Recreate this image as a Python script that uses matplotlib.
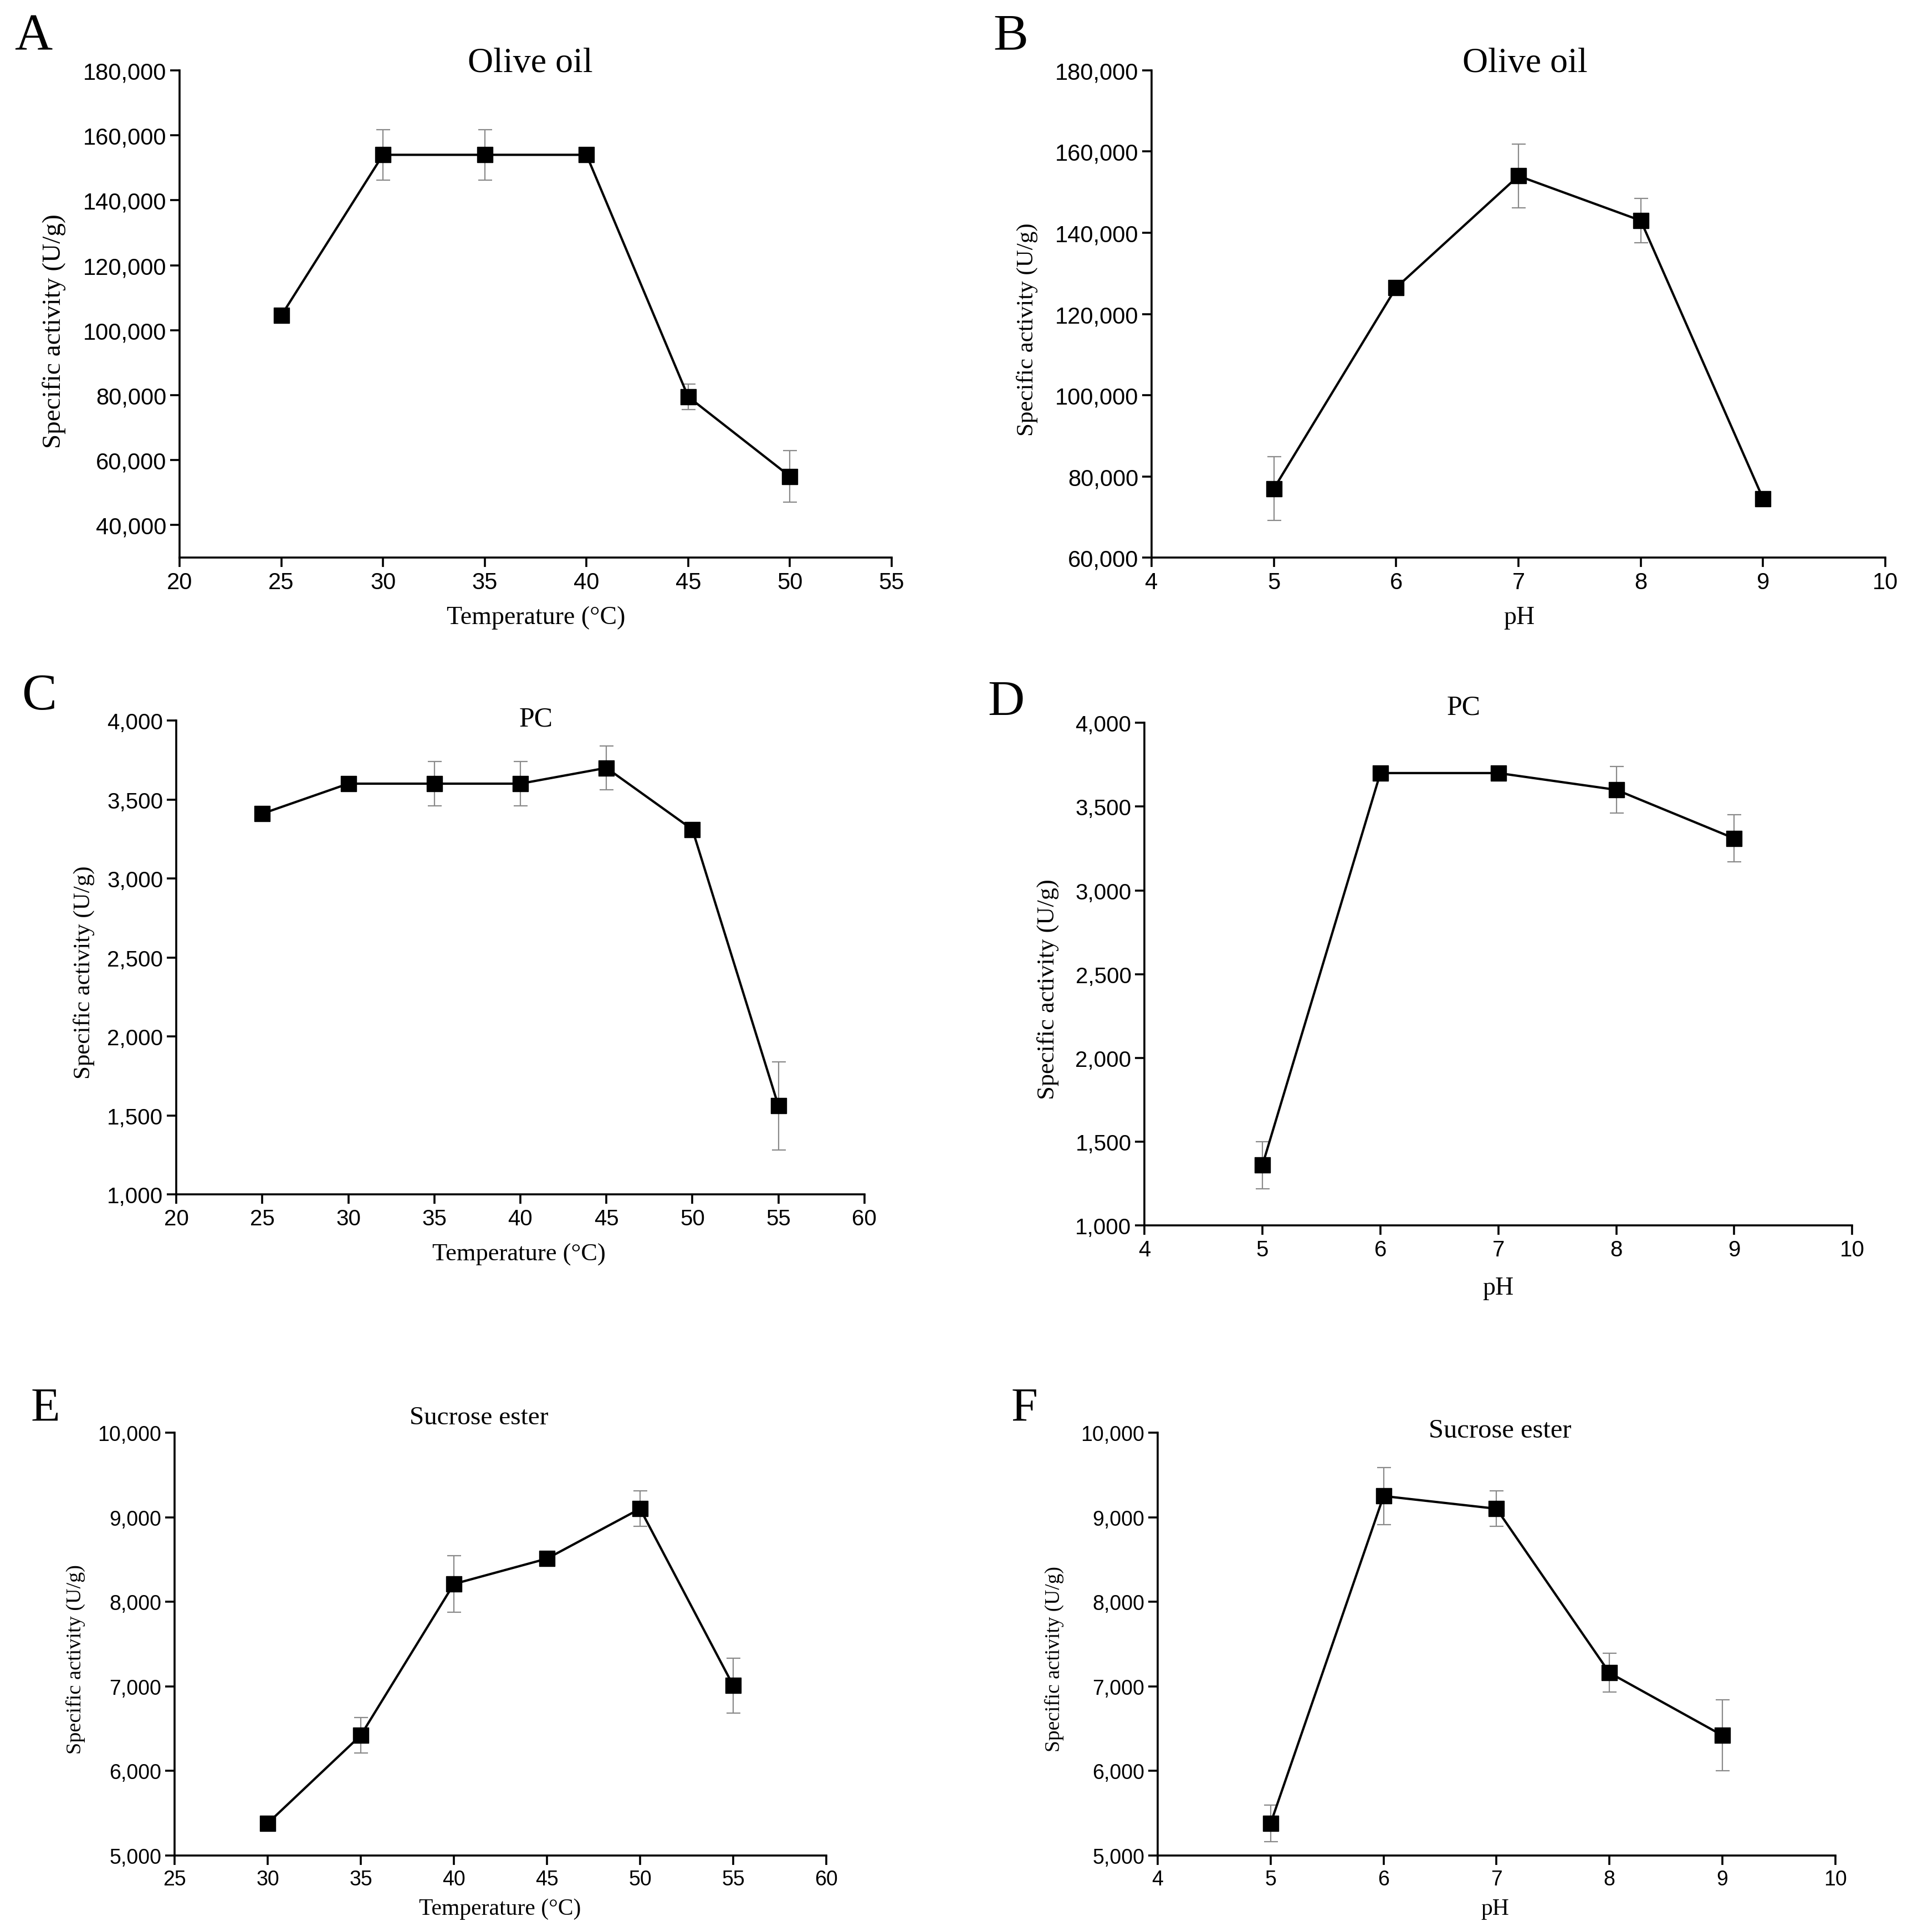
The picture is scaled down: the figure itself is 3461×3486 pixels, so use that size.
# imports
import matplotlib
matplotlib.use("Agg")
import matplotlib.pyplot as plt
from matplotlib.ticker import StrMethodFormatter
import numpy as np

# data
temp_a = [25, 30, 35, 40, 45, 50]
olive_temp = [104500, 154000, 154000, 154000, 79500, 55000]
olive_temp_err = [0, 7800, 7800, 0, 4000, 8000]

ph_b = [5, 6, 7, 8, 9]
olive_ph = [77000, 126500, 154000, 143000, 74500]
olive_ph_err = [7800, 0, 7800, 5500, 0]

temp_c = [25, 30, 35, 40, 45, 50, 55]
pc_temp = [3410, 3600, 3600, 3600, 3700, 3310, 1560]
pc_temp_err = [0, 0, 140, 140, 140, 0, 280]

ph_d = [5, 6, 7, 8, 9]
pc_ph = [1360, 3700, 3700, 3600, 3310]
pc_ph_err = [140, 0, 0, 140, 140]

temp_e = [30, 35, 40, 45, 50, 55]
sucrose_temp = [5380, 6420, 8210, 8510, 9100, 7010]
sucrose_temp_err = [0, 210, 335, 0, 210, 325]

ph_f = [5, 6, 7, 8, 9]
sucrose_ph = [5380, 9250, 9100, 7160, 6420]
sucrose_ph_err = [215, 335, 210, 230, 420]

serif = "Liberation Serif"
sans = "Liberation Sans"

fig = plt.figure(figsize=(34.61, 34.87), dpi=100)


def draw_panel(rect, x, y, err, xticks, yticks, ylim, tick_size):
    ax = fig.add_axes(rect)
    ax.errorbar(x, y, yerr=err, fmt="none", ecolor="#8a8a8a", elinewidth=1.6,
                capsize=9, capthick=1.6, zorder=2)
    ax.plot(x, y, color="black", linewidth=3, marker="s", markersize=20,
            markerfacecolor="black", markeredgecolor="black", zorder=3)
    ax.set_xlim(xticks[0], xticks[-1])
    ax.set_ylim(ylim)
    ax.set_xticks(xticks)
    ax.set_yticks(yticks)
    ax.yaxis.set_major_formatter(StrMethodFormatter("{x:,.0f}"))
    ax.spines["top"].set_visible(False)
    ax.spines["right"].set_visible(False)
    ax.spines["left"].set_linewidth(2.6)
    ax.spines["bottom"].set_linewidth(2.6)
    ax.tick_params(direction="out", length=12, width=2.6, pad=5)
    for lbl in ax.get_xticklabels() + ax.get_yticklabels():
        lbl.set_fontfamily(sans)
        lbl.set_fontsize(tick_size)
    ax.xaxis.set_tick_params(pad=6)
    return ax


def panel_text(letter, lpos, lsize, title, tpos, tsize, xlabel, xpos, xsize, ypos, ysize):
    fig.text(lpos[0], lpos[1], letter, fontfamily=serif, fontsize=lsize, ha="center", va="center")
    fig.text(tpos[0], tpos[1], title, fontfamily=serif, fontsize=tsize, ha="center", va="center")
    fig.text(xpos[0], xpos[1], xlabel, fontfamily=serif, fontsize=xsize, ha="center", va="center")
    fig.text(ypos[0], ypos[1], "Specific activity (U/g)", fontfamily=serif, fontsize=ysize,
             ha="center", va="center", rotation=90)


# A - olive oil vs temperature
draw_panel([0.0936, 0.7112, 0.3713, 0.2521], temp_a, olive_temp, olive_temp_err,
           np.arange(20, 56, 5), np.arange(40000, 180001, 20000), (30000, 180000), 30)
panel_text("A", (0.0173, 0.9808), 68, "Olive oil", (0.2765, 0.967), 46,
           "Temperature (\u00b0C)", (0.2794, 0.6802), 33, (0.0283, 0.8285), 34)

# B - olive oil vs pH
draw_panel([0.6004, 0.7112, 0.3826, 0.2521], ph_b, olive_ph, olive_ph_err,
           np.arange(4, 11, 1), np.arange(60000, 180001, 20000), (60000, 180000), 30)
panel_text("B", (0.527, 0.9808), 68, "Olive oil", (0.7951, 0.967), 46,
           "pH", (0.792, 0.6802), 33, (0.5354, 0.8294), 31)

# C - PC vs temperature
draw_panel([0.0919, 0.3817, 0.3588, 0.2452], temp_c, pc_temp, pc_temp_err,
           np.arange(20, 61, 5), np.arange(1000, 4001, 500), (1000, 4000), 29)
panel_text("C", (0.0205, 0.6395), 68, "PC", (0.2794, 0.6278), 36,
           "Temperature (\u00b0C)", (0.2707, 0.3507), 32, (0.0439, 0.4967), 31)

# D - PC vs pH
draw_panel([0.5967, 0.3656, 0.3690, 0.2601], ph_d, pc_ph, pc_ph_err,
           np.arange(4, 11, 1), np.arange(1000, 4001, 500), (1000, 4000), 29)
panel_text("D", (0.5244, 0.6361), 66, "PC", (0.7631, 0.6338), 36,
           "pH", (0.781, 0.3332), 33, (0.5464, 0.4881), 32)

# E - sucrose ester vs temperature
draw_panel([0.0910, 0.0396, 0.3398, 0.2188], temp_e, sucrose_temp, sucrose_temp_err,
           np.arange(25, 61, 5), np.arange(5000, 10001, 1000), (5000, 10000), 27)
panel_text("E", (0.0237, 0.2707), 62, "Sucrose ester", (0.2496, 0.2661), 34,
           "Temperature (\u00b0C)", (0.2606, 0.012), 30, (0.0393, 0.1414), 27.5)

# F - sucrose ester vs pH
draw_panel([0.6036, 0.0396, 0.3533, 0.2188], ph_f, sucrose_ph, sucrose_ph_err,
           np.arange(4, 11, 1), np.arange(5000, 10001, 1000), (5000, 10000), 27)
panel_text("F", (0.534, 0.2707), 62, "Sucrose ester", (0.7821, 0.2595), 35,
           "pH", (0.7795, 0.012), 30, (0.5496, 0.1414), 27)

fig.savefig("out.png", dpi=100, facecolor="white")
